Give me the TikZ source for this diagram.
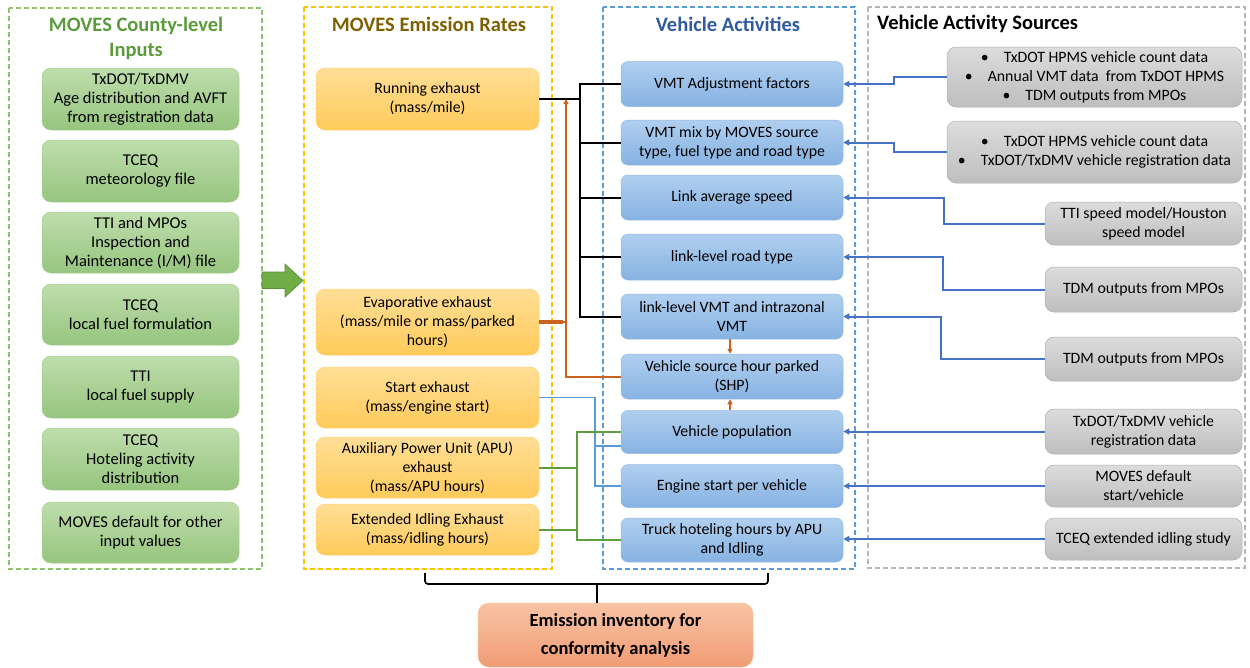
\documentclass[tikz,border=0pt]{standalone}
\usepackage{fontspec}
\setmainfont{Carlito}
\usetikzlibrary{arrows.meta}
\definecolor{gTop}{HTML}{BEDDAC}
\definecolor{gBot}{HTML}{96C57E}
\definecolor{gBorder}{HTML}{A9CF94}
\definecolor{oTop}{HTML}{FFDE96}
\definecolor{oBot}{HTML}{FFCB5A}
\definecolor{oBorder}{HTML}{FFD27A}
\definecolor{bTop}{HTML}{B0CFEF}
\definecolor{bBot}{HTML}{86B2E2}
\definecolor{bBorder}{HTML}{95BBE6}
\definecolor{sTop}{HTML}{DCDCDC}
\definecolor{sBot}{HTML}{BEBEBE}
\definecolor{sBorder}{HTML}{B0B0B0}
\definecolor{eTop}{HTML}{F8C3A4}
\definecolor{eBot}{HTML}{F09C74}
\definecolor{panelG}{HTML}{8EC46E}
\definecolor{panelY}{HTML}{FFC000}
\definecolor{panelB}{HTML}{5B9BD5}
\definecolor{panelS}{HTML}{B5B5B5}
\definecolor{titleG}{HTML}{5B9B3C}
\definecolor{titleY}{HTML}{7F6000}
\definecolor{titleB}{HTML}{2F5BA0}
\definecolor{lnOrange}{HTML}{C9621F}
\definecolor{lnBlue}{HTML}{5B9BD5}
\definecolor{lnBlueDk}{HTML}{4472C4}
\definecolor{lnGreen}{HTML}{5E9E3E}
\definecolor{arrG}{HTML}{70AD47}
\definecolor{arrGdk}{HTML}{5A8F38}
\newcommand{\fsbody}{\fontsize{15.8}{19}\selectfont}
\newcommand{\fsgreen}{\fontsize{16.5}{19}\selectfont}
\newcommand{\fstitle}{\fontsize{20.5}{25}\selectfont\bfseries}
\newcommand{\bul}{\textbullet\hspace{0.95em}}
\tikzset{
  box/.style={rounded corners=9pt, align=center, inner sep=2pt, font=\fsbody, line width=0.5pt},
  gbox/.style={box, font=\fsgreen, top color=gTop, bottom color=gBot, draw=gBorder, minimum width=197pt},
  obox/.style={box, top color=oTop, bottom color=oBot, draw=oBorder, minimum width=223pt},
  bbox/.style={box, rounded corners=7pt, top color=bTop, bottom color=bBot, draw=bBorder, minimum width=222pt},
  sbox/.style={box, top color=sTop, bottom color=sBot, draw=sBorder},
  panel/.style={dash pattern=on 5pt off 3pt, line width=1.2pt},
  ttl/.style={font=\fstitle, align=center, inner sep=0pt},
  blk/.style={line width=2pt, black},
  orn/.style={line width=2pt, lnOrange},
  blu/.style={line width=1.7pt, lnBlue},
  grn/.style={line width=2pt, lnGreen},
  rarr/.style={line width=2pt, lnBlueDk, -{Triangle[length=6pt,width=6pt]}},
  oarr/.style={orn, -{Triangle[length=5pt,width=5pt]}}
}
\begin{document}
\begin{tikzpicture}[x=1pt,y=-1pt]
\useasboundingbox (0,0) rectangle (1250,667);
\fill[white] (0,0) rectangle (1250,667);

% panels
\draw[panel, panelG] (9,8) rectangle (262,569);
\draw[panel, panelY] (304,7) rectangle (552,569);
\draw[panel, panelB] (603,7) rectangle (855,569);
\draw[panel, panelS] (868,7) rectangle (1245,568);

% titles
\node[ttl, titleG] (tg) at (136,38) {MOVES County-level\\Inputs};
\node[ttl, titleY] (ty) at (429,24) {MOVES Emission Rates};
\node[ttl, titleB] (tb) at (728,24) {Vehicle Activities};
\node[ttl, black, anchor=west] (ts) at (877,24) {Vehicle Activity Sources};

% green input boxes
\node[gbox, minimum height=62pt] (g1) at (140.5,99) {TxDOT/TxDMV\\Age distribution and AVFT\\from registration data};
\node[gbox, minimum height=62pt] (g2) at (140.5,171) {TCEQ\\meteorology file};
\node[gbox, minimum height=61pt] (g3) at (140.5,242.5) {TTI and MPOs\\Inspection and\\Maintenance (I/M) file};
\node[gbox, minimum height=61pt] (g4) at (140.5,314.5) {TCEQ\\local fuel formulation};
\node[gbox, minimum height=62pt] (g5) at (140.5,387) {TTI\\local fuel supply};
\node[gbox, minimum height=62pt] (g6) at (140.5,459) {TCEQ\\Hoteling activity\\distribution};
\node[gbox, minimum height=61pt] (g7) at (140.5,532.5) {MOVES default for other\\input values};

% big green arrow
\filldraw[fill=arrG, draw=arrGdk, line width=0.6pt] (262,272) -- (285,272) -- (285,264) -- (303,280.5) -- (285,297) -- (285,288.5) -- (262,288.5) -- cycle;

% emission rate boxes
\node[obox, minimum height=62pt] (o1) at (427.5,99) {Running exhaust\\(mass/mile)};
\node[obox, minimum height=66pt] (o2) at (427.5,322) {Evaporative exhaust\\(mass/mile or mass/parked\\hours)};
\node[obox, minimum height=61pt] (o3) at (427.5,397.5) {Start exhaust\\(mass/engine start)};
\node[obox, minimum height=61pt] (o4) at (427.5,467.5) {Auxiliary Power Unit (APU)\\exhaust\\(mass/APU hours)};
\node[obox, minimum height=51pt] (o5) at (427.5,529.5) {Extended Idling Exhaust\\(mass/idling hours)};

% vehicle activity boxes
\node[bbox, minimum height=45pt] (b1) at (732,84) {VMT Adjustment factors};
\node[bbox, minimum height=45pt] (b2) at (732,142.5) {VMT mix by MOVES source\\type, fuel type and road type};
\node[bbox, minimum height=45pt] (b3) at (732,197.5) {Link average speed};
\node[bbox, minimum height=46pt] (b4) at (732,257) {link-level road type};
\node[bbox, minimum height=45pt] (b5) at (732,316.5) {link-level VMT and intrazonal\\VMT};
\node[bbox, minimum height=45pt] (b6) at (732,376.5) {Vehicle source hour parked\\(SHP)};
\node[bbox, minimum height=43pt] (b7) at (732,432) {Vehicle population};
\node[bbox, minimum height=43pt] (b8) at (732,486) {Engine start per vehicle};
\node[bbox, minimum height=44pt] (b9) at (732,540) {Truck hoteling hours by APU\\and Idling};

% source boxes
\node[sbox, minimum width=295pt, minimum height=60pt] (s1) at (1094.5,77) {\bul TxDOT HPMS vehicle count data\\\bul Annual VMT data\ \ from TxDOT HPMS\\\bul TDM outputs from MPOs};
\node[sbox, minimum width=295pt, minimum height=62pt] (s2) at (1094.5,152) {\bul TxDOT HPMS vehicle count data\\\bul TxDOT/TxDMV vehicle registration data};
\node[sbox, minimum width=197pt, minimum height=43pt] (s3) at (1143.5,223.5) {TTI speed model/Houston\\speed model};
\node[sbox, minimum width=197pt, minimum height=45pt] (s4) at (1143.5,289.5) {TDM outputs from MPOs};
\node[sbox, minimum width=197pt, minimum height=44pt] (s5) at (1143.5,359) {TDM outputs from MPOs};
\node[sbox, minimum width=197pt, minimum height=45pt] (s6) at (1143.5,431.5) {TxDOT/TxDMV vehicle\\registration data};
\node[sbox, minimum width=197pt, minimum height=42pt] (s7) at (1143.5,486) {MOVES default\\start/vehicle};
\node[sbox, minimum width=197pt, minimum height=42pt] (s8) at (1143.5,539) {TCEQ extended idling study};

% emission inventory
\node[box, rounded corners=11pt, top color=eTop, bottom color=eBot, draw=eTop, minimum width=275pt, minimum height=64pt, font=\fontsize{18.5}{28}\selectfont\bfseries] (ei) at (615.5,635) {Emission inventory for\\conformity analysis};

% source -> activity arrows
\coordinate (c1) at (894,0);
\coordinate (c3) at (944,0);
\coordinate (c4) at (943,0);
\coordinate (c5) at (941,0);
\draw[rarr] (s1.west) -- (c1 |- s1.west) |- (b1.east);
\draw[rarr] (s2.west) -- (c1 |- s2.west) |- (b2.east);
\draw[rarr] (s3.west) -- (c3 |- s3.west) |- (b3.east);
\draw[rarr] (s4.west) -- (c4 |- s4.west) |- (b4.east);
\draw[rarr] (s5.west) -- (c5 |- s5.west) |- (b5.east);
\draw[rarr] (s6.west) -- (b7.east |- s6.west);
\draw[rarr] (s7.west) -- (b8.east |- s7.west);
\draw[rarr] (s8.west) -- (b9.east |- s8.west);

% black bus from running exhaust
\coordinate (bus) at (580,0);
\draw[blk] (o1.east) -- (bus |- o1.east);
\draw[blk] (b1.west) -| (bus |- b5.west) -- (b5.west);
\draw[blk] (bus |- b2.west) -- (b2.west);
\draw[blk] (bus |- b3.west) -- (b3.west);
\draw[blk] (bus |- b4.west) -- (b4.west);

% orange connectors
\coordinate (ob) at (566,0);
\draw[oarr] (b6.west) -- (ob |- b6.west) -- (ob |- o1.east);
\draw[line width=3.2pt, lnOrange] (o2.east) -- (563,322);
\draw[orn] (563,322) -- (ob |- o2.east);
\draw[oarr] (b5.south -| 730,0) -- (b6.north -| 730,0);
\draw[oarr] (b7.north -| 730,0) -- (b6.south -| 730,0);

% blue start-exhaust connectors
\coordinate (bl) at (595,0);
\draw[blu] (o3.east) -- (bl |- o3.east) |- (b8.west);
\draw[blu] (bl |- 0,446) -- (b7.west |- 0,446);

% green connectors
\coordinate (gl) at (577,0);
\draw[grn] (b7.west) -- (gl |- b7.west) |- (b9.west);
\draw[grn] (o4.east) -- (gl |- o4.east);
\draw[grn] (o5.east) -- (gl |- o5.east);

% bottom brace
\coordinate (brL) at (425,573);
\coordinate (brR) at (768,573);
\draw[line width=1.6pt, rounded corners=3pt] (brL) -- (425,584) -- (768,584) -- (brR);
\draw[line width=1.6pt] (597,584) -- (ei.north -| 597,0);
\end{tikzpicture}
\end{document}
